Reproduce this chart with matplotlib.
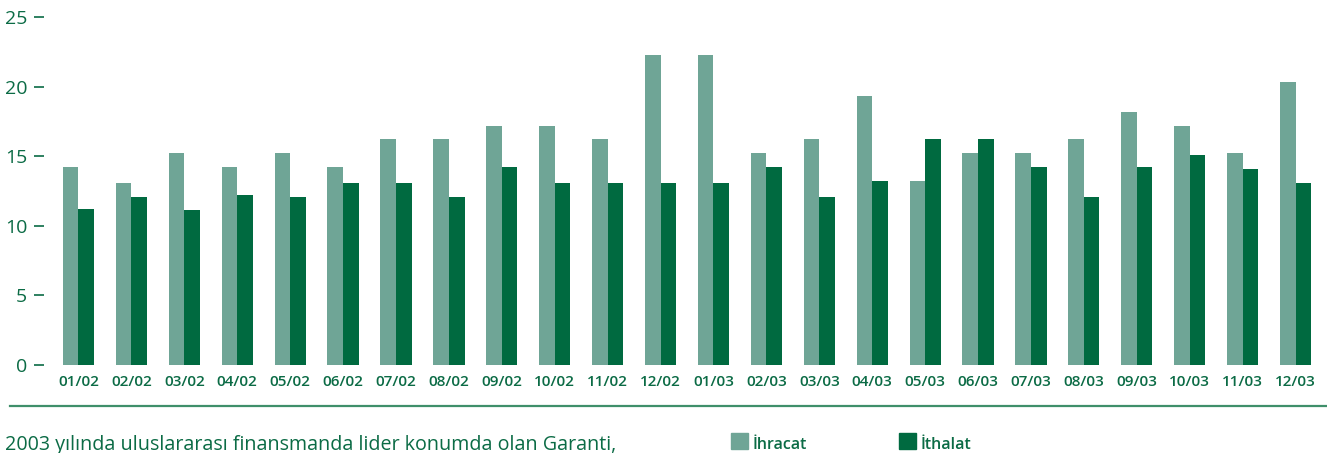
import numpy as np
import matplotlib
matplotlib.use("Agg")
import matplotlib.pyplot as plt
from matplotlib.lines import Line2D
from matplotlib.patches import Rectangle

months = ["01/02", "02/02", "03/02", "04/02", "05/02", "06/02", "07/02", "08/02",
          "09/02", "10/02", "11/02", "12/02", "01/03", "02/03", "03/03", "04/03",
          "05/03", "06/03", "07/03", "08/03", "09/03", "10/03", "11/03", "12/03"]
ihracat = [14.2, 13.1, 15.2, 14.2, 15.2, 14.2, 16.2, 16.2, 17.2, 17.2, 16.2, 22.3,
           22.3, 15.2, 16.2, 19.3, 13.2, 15.2, 15.2, 16.2, 18.2, 17.2, 15.2, 20.3]
ithalat = [11.2, 12.1, 11.1, 12.2, 12.1, 13.1, 13.1, 12.1, 14.2, 13.1, 13.1, 13.1,
           13.1, 14.2, 12.1, 13.2, 16.2, 16.2, 14.2, 12.1, 14.2, 15.1, 14.1, 13.1]
yticks = [0, 5, 10, 15, 20, 25]

light = "#6fa596"
dark = "#006a40"
textc = "#0b6b45"

plt.rcParams['font.family'] = ['Open Sans', 'DejaVu Sans']

W, H = 1327, 453
fig = plt.figure(figsize=(W / 100, H / 100), dpi=100)
ax = fig.add_axes([44 / W, (H - 365) / H, (W - 44) / W, 348 / H])

x = np.arange(len(months))
bw = 0.295
ax.bar(x - bw / 2, ihracat, width=bw, color=light, linewidth=0)
ax.bar(x + bw / 2, ithalat, width=bw, color=dark, linewidth=0)

ax.set_xlim(-0.652, 23.595)
ax.set_ylim(0, 25)
for s in ax.spines.values():
    s.set_visible(False)

ax.set_yticks(yticks)
ax.set_yticklabels([str(v) for v in yticks], fontsize=14, color=textc, fontweight='medium')
ax.tick_params(axis='y', direction='out', length=7, width=1.2, color=textc, pad=5)
ax.set_xticks(x)
ax.set_xticklabels(months, fontsize=11, color=textc, fontweight='semibold')
ax.tick_params(axis='x', length=0, pad=7)

# separator line
fig.add_artist(Line2D([10 / W, 1.0], [(H - 405.5) / H] * 2, color="#3f8f6a", linewidth=1.6))

fig.text(5 / W, (H - 450) / H, "2003 yılında uluslararası finansmanda lider konumda olan Garanti,",
         fontsize=14.2, color=textc, va='baseline', ha='left')

# legend
for sx, col, lab in [(731, light, "İhracat"), (899, dark, "İthalat")]:
    fig.add_artist(Rectangle((sx / W, (H - 449) / H), 16.5 / W, 16.5 / H, color=col,
                             transform=fig.transFigure))
    fig.text((sx + 22) / W, (H - 449) / H, lab, fontsize=11.5, color=textc,
             fontweight='semibold', va='baseline', ha='left')

fig.savefig("out.png", dpi=100)
